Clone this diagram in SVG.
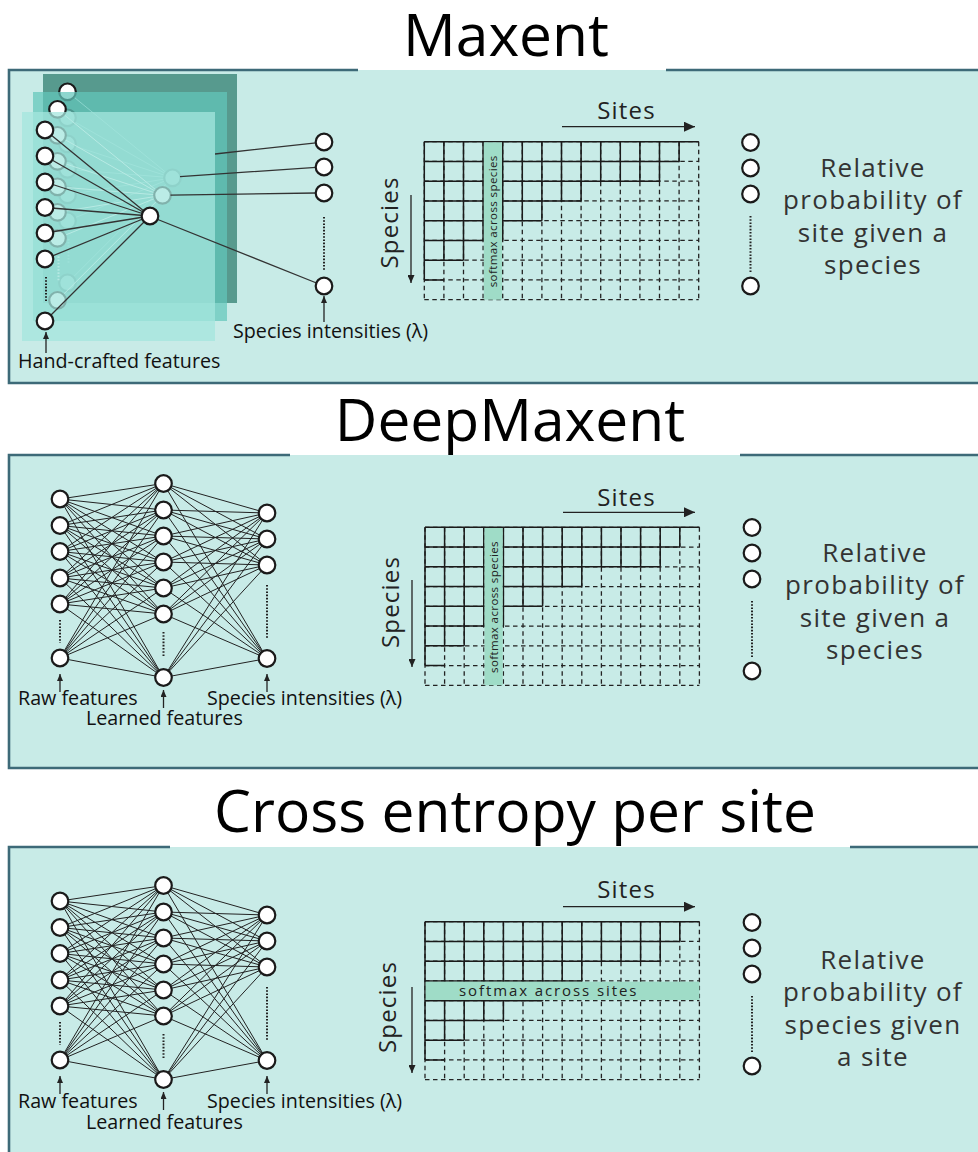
<svg xmlns="http://www.w3.org/2000/svg" xmlns:xlink="http://www.w3.org/1999/xlink" width="978" height="1152" viewBox="0 0 978 1152">
<style>
text{font-family:"Open Sans","Noto Sans","DejaVu Sans",sans-serif}
.title{font-size:58.7px;fill:#000;text-anchor:middle}
.lbl{font-size:19.7px;fill:#111}
.axis{font-size:24px;fill:#222;letter-spacing:1.2px}
.rtxt{font-size:26px;fill:#333;letter-spacing:1.3px;text-anchor:middle}
.panel{fill:#c8ebe7}
.border{stroke:#3d6a78;stroke-width:2.6;fill:none}
.node{fill:#fff;stroke:#1a1a1a;stroke-width:2.2}
.link{stroke:#222;stroke-width:1;fill:none}
.mxlink{stroke:#333;stroke-width:1.3;fill:none}
.ghostlink{stroke:#eef6f4;stroke-width:1;fill:none}
.dots{stroke:#222;stroke-width:2;stroke-dasharray:1.6 1.6;fill:none}
.ghostdots{stroke:#e6f0ee;stroke-width:2;stroke-dasharray:1.6 1.6;fill:none}
.arr{stroke:#222;stroke-width:1.3;fill:none}
.gdash{stroke:#222;stroke-width:1.3;stroke-dasharray:4.5 3.5;fill:none}
.gsolid{stroke:#1a1a1a;stroke-width:1.5;fill:none}
.bar{fill:#9fdcc7}
.bartxt{fill:#222}
</style>
<defs>
<marker id="ahS" markerUnits="userSpaceOnUse" markerWidth="7" markerHeight="6" refX="7" refY="3" orient="auto"><path d="M0 0L7 3L0 6z" fill="#222"/></marker>
<marker id="ahM" markerUnits="userSpaceOnUse" markerWidth="8" markerHeight="7" refX="8" refY="3.5" orient="auto"><path d="M0 0L8 3.5L0 7z" fill="#222"/></marker>
<marker id="ahL" markerUnits="userSpaceOnUse" markerWidth="11" markerHeight="10" refX="11" refY="5" orient="auto"><path d="M0 0L11 5L0 10z" fill="#222"/></marker>
<g id="grid-base">
<path class="gdash" d="M0 0H274.4M0 19.75H274.4M0 39.5H274.4M0 59.25H274.4M0 79H274.4M0 98.75H274.4M0 118.5H274.4M0 138.25H274.4M0 158H274.4M0 0V158M19.6 0V158M39.2 0V158M58.8 0V158M78.4 0V158M98 0V158M117.6 0V158M137.2 0V158M156.8 0V158M176.4 0V158M196 0V158M215.6 0V158M235.2 0V158M254.8 0V158M274.4 0V158"/>
<path class="gsolid" d="M0 0H274.4M0 19.75H254.8M0 39.5H235.2M0 59.25H156.8M0 79H117.6M0 98.75H78.4M0 118.5H39.2M0 138.25H19.6M0 0V138.25M19.6 0V118.5M39.2 0V118.5M58.8 0V98.75M78.4 0V98.75M98 0V79M117.6 0V79M137.2 0V59.25M156.8 0V59.25M176.4 0V39.5M196 0V39.5M215.6 0V39.5M235.2 0V39.5M254.8 0V19.75"/>
</g>
<g id="mx-ghost">
<path class="ghostlink" d="M45 130L150 216M45 156L150 216M45 182L150 216M45 207.5L150 216M45 233L150 216M45 259L150 216M45 321L150 216"/>
<path class="ghostdots" d="M46 277V301"/>
<circle class="node" cx="45" cy="130" r="8.3"/><circle class="node" cx="45" cy="156" r="8.3"/><circle class="node" cx="45" cy="182" r="8.3"/><circle class="node" cx="45" cy="207.5" r="8.3"/><circle class="node" cx="45" cy="233" r="8.3"/><circle class="node" cx="45" cy="259" r="8.3"/><circle class="node" cx="45" cy="321" r="8.3"/>
<circle class="node" cx="150" cy="216" r="8.3"/>
</g>
</defs>

<rect width="978" height="1152" fill="#fff"/>

<!-- Panel 1: Maxent -->
<g id="panel-maxent">
<rect class="panel" x="9" y="70" width="975" height="313"/>
<path class="border" d="M358 70H9V383H984M666 70H984"/>
<text class="title" x="506" y="56">Maxent</text>
</g>
<g id="maxent-layers">
<rect x="43" y="74" width="194" height="229" fill="#579a8e"/>
<use xlink:href="#mx-ghost" href="#mx-ghost" transform="translate(22.5,-38.2)"/>
<rect x="33" y="92" width="194" height="229" fill="rgb(98,198,187)" opacity="0.72"/>
<use xlink:href="#mx-ghost" href="#mx-ghost" transform="translate(12.5,-20.7)"/>
<rect x="22" y="112" width="193" height="229" fill="rgb(164,229,221)" opacity="0.75"/>
</g>
<g id="maxent-connectors">
<path class="mxlink" d="M45 130L150 216M45 156L150 216M45 182L150 216M45 207.5L150 216M45 233L150 216M45 259L150 216M45 321L150 216"/>
<path class="mxlink" d="M215 154L316 142.8M180 176.6L316 167.4M170.5 195.1L316 193M157.8 219.5L316.5 283"/>
<path class="dots" d="M46 277V301M324 217V271"/>
<path class="arr" d="M46 353V332" marker-end="url(#ahS)"/>
<path class="arr" d="M324 322V296" marker-end="url(#ahS)"/>
</g>
<g id="maxent-inputs">
<circle class="node" cx="45" cy="130" r="8.3"/><circle class="node" cx="45" cy="156" r="8.3"/><circle class="node" cx="45" cy="182" r="8.3"/><circle class="node" cx="45" cy="207.5" r="8.3"/><circle class="node" cx="45" cy="233" r="8.3"/><circle class="node" cx="45" cy="259" r="8.3"/><circle class="node" cx="45" cy="321" r="8.3"/>
</g>
<g id="maxent-hidden"><circle class="node" cx="150" cy="216" r="8.3"/></g>
<g id="maxent-outputs">
<circle class="node" cx="324" cy="142" r="8.3"/><circle class="node" cx="324" cy="167" r="8.3"/><circle class="node" cx="324" cy="193" r="8.3"/><circle class="node" cx="324" cy="286" r="8.3"/>
</g>
<g id="maxent-labels">
<text class="lbl" x="18" y="368">Hand-crafted features</text>
<text class="lbl" x="233" y="338">Species intensities (λ)</text>
</g>
<g id="maxent-matrix">
<use xlink:href="#grid-base" href="#grid-base" transform="translate(424.3,141.7)"/>
<rect class="bar" x="483.8" y="142.4" width="18.2" height="157.3"/>
<text class="bartxt" font-size="11.5" letter-spacing="0.4" text-anchor="middle" transform="translate(496.9,221.3) rotate(-90)">softmax across species</text>
<text class="axis" x="626.5" y="119" text-anchor="middle">Sites</text>
<path class="arr" d="M562 126.7H695" marker-end="url(#ahL)"/>
<text class="axis" text-anchor="middle" transform="translate(398,222.5) rotate(-90)">Species</text>
<path class="arr" d="M411 195V283" marker-end="url(#ahM)"/>
</g>
<g id="maxent-result">
<circle class="node" cx="750.5" cy="142.5" r="8.3"/><circle class="node" cx="750.5" cy="168" r="8.3"/><circle class="node" cx="750.5" cy="194" r="8.3"/><circle class="node" cx="750.5" cy="286" r="8.3"/>
<path class="dots" d="M750.5 216V272"/>
<text class="rtxt"><tspan x="873" y="177">Relative</tspan><tspan x="873" y="209">probability of</tspan><tspan x="873" y="242">site given a</tspan><tspan x="873" y="274">species</tspan></text>
</g>

<!-- Panel 2: DeepMaxent -->
<g id="panel-deepmaxent">
<rect class="panel" x="9" y="455" width="975" height="313"/>
<path class="border" d="M290 455H9V768H984M740 455H984"/>
<text class="title" x="510" y="441">DeepMaxent</text>
</g>
<g id="deep-net">
<g id="deep-connectors">
<path class="link" d="M60 499L163.5 483.5M60 499L163.5 510M60 499L163.5 536M60 499L163.5 562M60 499L163.5 588M60 499L163.5 614M60 499L163.5 677.5M60 525.5L163.5 483.5M60 525.5L163.5 510M60 525.5L163.5 536M60 525.5L163.5 562M60 525.5L163.5 588M60 525.5L163.5 614M60 525.5L163.5 677.5M60 551.5L163.5 483.5M60 551.5L163.5 510M60 551.5L163.5 536M60 551.5L163.5 562M60 551.5L163.5 588M60 551.5L163.5 614M60 551.5L163.5 677.5M60 578L163.5 483.5M60 578L163.5 510M60 578L163.5 536M60 578L163.5 562M60 578L163.5 588M60 578L163.5 614M60 578L163.5 677.5M60 604L163.5 483.5M60 604L163.5 510M60 604L163.5 536M60 604L163.5 562M60 604L163.5 588M60 604L163.5 614M60 604L163.5 677.5M60 658L163.5 483.5M60 658L163.5 510M60 658L163.5 536M60 658L163.5 562M60 658L163.5 588M60 658L163.5 614M60 658L163.5 677.5"/>
<path class="link" d="M163.5 483.5L267 513M163.5 483.5L267 539M163.5 483.5L267 565M163.5 483.5L267 658.5M163.5 510L267 513M163.5 510L267 539M163.5 510L267 565M163.5 510L267 658.5M163.5 536L267 513M163.5 536L267 539M163.5 536L267 565M163.5 536L267 658.5M163.5 562L267 513M163.5 562L267 539M163.5 562L267 565M163.5 562L267 658.5M163.5 588L267 513M163.5 588L267 539M163.5 588L267 565M163.5 588L267 658.5M163.5 614L267 513M163.5 614L267 539M163.5 614L267 565M163.5 614L267 658.5M163.5 677.5L267 513M163.5 677.5L267 539M163.5 677.5L267 565M163.5 677.5L267 658.5"/>
<path class="dots" d="M60 620V643M163.5 632V657M267 585V638"/>
<path class="arr" d="M60 692V674" marker-end="url(#ahS)"/>
<path class="arr" d="M163.5 708V690" marker-end="url(#ahS)"/>
<path class="arr" d="M267 692V674" marker-end="url(#ahS)"/>
</g>
<g id="deep-inputs">
<circle class="node" cx="60" cy="499" r="8.3"/><circle class="node" cx="60" cy="525.5" r="8.3"/><circle class="node" cx="60" cy="551.5" r="8.3"/><circle class="node" cx="60" cy="578" r="8.3"/><circle class="node" cx="60" cy="604" r="8.3"/><circle class="node" cx="60" cy="658" r="8.3"/>
</g>
<g id="deep-hidden">
<circle class="node" cx="163.5" cy="483.5" r="8.3"/><circle class="node" cx="163.5" cy="510" r="8.3"/><circle class="node" cx="163.5" cy="536" r="8.3"/><circle class="node" cx="163.5" cy="562" r="8.3"/><circle class="node" cx="163.5" cy="588" r="8.3"/><circle class="node" cx="163.5" cy="614" r="8.3"/><circle class="node" cx="163.5" cy="677.5" r="8.3"/>
</g>
<g id="deep-outputs">
<circle class="node" cx="267" cy="513" r="8.3"/><circle class="node" cx="267" cy="539" r="8.3"/><circle class="node" cx="267" cy="565" r="8.3"/><circle class="node" cx="267" cy="658.5" r="8.3"/>
</g>
<g id="deep-labels">
<text class="lbl" x="18" y="705">Raw features</text>
<text class="lbl" x="86" y="725">Learned features</text>
<text class="lbl" x="207" y="705">Species intensities (λ)</text>
</g>
</g>
<g id="deep-matrix">
<use xlink:href="#grid-base" href="#grid-base" transform="translate(425,527.3)"/>
<rect class="bar" x="484.5" y="528" width="18.2" height="157.3"/>
<text class="bartxt" font-size="11.5" letter-spacing="0.4" text-anchor="middle" transform="translate(497.6,607) rotate(-90)">softmax across species</text>
<text class="axis" x="626.5" y="506" text-anchor="middle">Sites</text>
<path class="arr" d="M563 512.3H695" marker-end="url(#ahL)"/>
<text class="axis" text-anchor="middle" transform="translate(399,602) rotate(-90)">Species</text>
<path class="arr" d="M412 580V667" marker-end="url(#ahM)"/>
</g>
<g id="deep-result">
<circle class="node" cx="752" cy="527.5" r="8.3"/><circle class="node" cx="752" cy="553" r="8.3"/><circle class="node" cx="752" cy="579" r="8.3"/><circle class="node" cx="752" cy="671" r="8.3"/>
<path class="dots" d="M752 601V657"/>
<text class="rtxt"><tspan x="875" y="562">Relative</tspan><tspan x="875" y="594">probability of</tspan><tspan x="875" y="627">site given a</tspan><tspan x="875" y="659">species</tspan></text>
</g>

<!-- Panel 3: Cross entropy per site -->
<g id="panel-crossentropy">
<rect class="panel" x="9" y="847" width="975" height="320"/>
<path class="border" d="M170 847H9V1160M850 847H984"/>
<text class="title" x="515" y="832" font-size="58.2">Cross entropy per site</text>
</g>
<g id="ce-net" transform="translate(0,402)">
<g id="ce-connectors">
<path class="link" d="M60 499L163.5 483.5M60 499L163.5 510M60 499L163.5 536M60 499L163.5 562M60 499L163.5 588M60 499L163.5 614M60 499L163.5 677.5M60 525.5L163.5 483.5M60 525.5L163.5 510M60 525.5L163.5 536M60 525.5L163.5 562M60 525.5L163.5 588M60 525.5L163.5 614M60 525.5L163.5 677.5M60 551.5L163.5 483.5M60 551.5L163.5 510M60 551.5L163.5 536M60 551.5L163.5 562M60 551.5L163.5 588M60 551.5L163.5 614M60 551.5L163.5 677.5M60 578L163.5 483.5M60 578L163.5 510M60 578L163.5 536M60 578L163.5 562M60 578L163.5 588M60 578L163.5 614M60 578L163.5 677.5M60 604L163.5 483.5M60 604L163.5 510M60 604L163.5 536M60 604L163.5 562M60 604L163.5 588M60 604L163.5 614M60 604L163.5 677.5M60 658L163.5 483.5M60 658L163.5 510M60 658L163.5 536M60 658L163.5 562M60 658L163.5 588M60 658L163.5 614M60 658L163.5 677.5"/>
<path class="link" d="M163.5 483.5L267 513M163.5 483.5L267 539M163.5 483.5L267 565M163.5 483.5L267 658.5M163.5 510L267 513M163.5 510L267 539M163.5 510L267 565M163.5 510L267 658.5M163.5 536L267 513M163.5 536L267 539M163.5 536L267 565M163.5 536L267 658.5M163.5 562L267 513M163.5 562L267 539M163.5 562L267 565M163.5 562L267 658.5M163.5 588L267 513M163.5 588L267 539M163.5 588L267 565M163.5 588L267 658.5M163.5 614L267 513M163.5 614L267 539M163.5 614L267 565M163.5 614L267 658.5M163.5 677.5L267 513M163.5 677.5L267 539M163.5 677.5L267 565M163.5 677.5L267 658.5"/>
<path class="dots" d="M60 620V643M163.5 632V657M267 585V638"/>
<path class="arr" d="M60 692V674" marker-end="url(#ahS)"/>
<path class="arr" d="M163.5 708V690" marker-end="url(#ahS)"/>
<path class="arr" d="M267 692V674" marker-end="url(#ahS)"/>
</g>
<g id="ce-inputs">
<circle class="node" cx="60" cy="499" r="8.3"/><circle class="node" cx="60" cy="525.5" r="8.3"/><circle class="node" cx="60" cy="551.5" r="8.3"/><circle class="node" cx="60" cy="578" r="8.3"/><circle class="node" cx="60" cy="604" r="8.3"/><circle class="node" cx="60" cy="658" r="8.3"/>
</g>
<g id="ce-hidden">
<circle class="node" cx="163.5" cy="483.5" r="8.3"/><circle class="node" cx="163.5" cy="510" r="8.3"/><circle class="node" cx="163.5" cy="536" r="8.3"/><circle class="node" cx="163.5" cy="562" r="8.3"/><circle class="node" cx="163.5" cy="588" r="8.3"/><circle class="node" cx="163.5" cy="614" r="8.3"/><circle class="node" cx="163.5" cy="677.5" r="8.3"/>
</g>
<g id="ce-outputs">
<circle class="node" cx="267" cy="513" r="8.3"/><circle class="node" cx="267" cy="539" r="8.3"/><circle class="node" cx="267" cy="565" r="8.3"/><circle class="node" cx="267" cy="658.5" r="8.3"/>
</g>
<g id="ce-labels">
<text class="lbl" x="18" y="706">Raw features</text>
<text class="lbl" x="86" y="727">Learned features</text>
<text class="lbl" x="207" y="706">Species intensities (λ)</text>
</g>
</g>
<g id="ce-matrix">
<use xlink:href="#grid-base" href="#grid-base" transform="translate(425,921.7)"/>
<rect class="bar" x="425.7" y="981.7" width="273.7" height="18.3"/>
<text class="bartxt" x="459" y="995.5" font-size="15" letter-spacing="1.9">softmax across sites</text>
<text class="axis" x="626.5" y="898" text-anchor="middle">Sites</text>
<path class="arr" d="M563 906.7H695" marker-end="url(#ahL)"/>
<text class="axis" text-anchor="middle" transform="translate(396,1007) rotate(-90)">Species</text>
<path class="arr" d="M412 987V1073" marker-end="url(#ahM)"/>
</g>
<g id="ce-result">
<circle class="node" cx="752" cy="922.5" r="8.3"/><circle class="node" cx="752" cy="948" r="8.3"/><circle class="node" cx="752" cy="974" r="8.3"/><circle class="node" cx="752" cy="1066" r="8.3"/>
<path class="dots" d="M752 996V1052"/>
<text class="rtxt"><tspan x="873" y="969">Relative</tspan><tspan x="873" y="1001">probability of</tspan><tspan x="873" y="1034">species given</tspan><tspan x="873" y="1066">a site</tspan></text>
</g>
</svg>
